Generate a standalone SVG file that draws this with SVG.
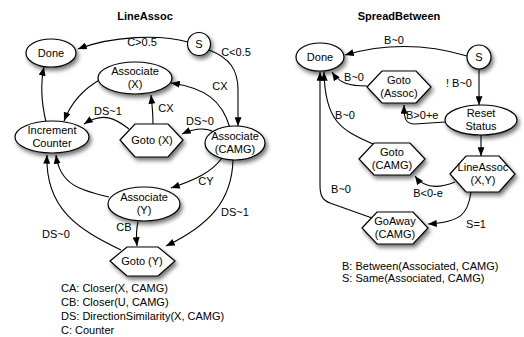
<svg xmlns="http://www.w3.org/2000/svg" width="524" height="337" viewBox="0 0 524 337">
<style>
text{font-family:"Liberation Sans",Arial,sans-serif;font-size:11px;fill:#000}
.t{font-weight:bold;text-anchor:middle}
.c{text-anchor:middle}
.n{fill:#fff;stroke:#000;stroke-width:1.2;filter:url(#sh)}
.e{fill:none;stroke:#000;stroke-width:1.1;marker-end:url(#ah)}
</style>
<defs>
<filter id="sh" x="-30%" y="-30%" width="170%" height="180%">
<feDropShadow dx="2" dy="3" stdDeviation="2" flood-color="#000" flood-opacity="0.55"/>
</filter>
<marker id="ah" viewBox="0 0 10 8" refX="10" refY="4" markerWidth="9" markerHeight="7" markerUnits="userSpaceOnUse" orient="auto">
<path d="M0,0 L10,4 L0,8 z" fill="#000"/>
</marker>
</defs>
<rect width="524" height="337" fill="#fff"/>
<text class="t" x="145" y="20">LineAssoc</text>
<text class="t" x="399" y="20">SpreadBetween</text>

<g id="edges">
<path class="e" d="M188,42 C160,34 112,36 78,49"/>
<path class="e" d="M209,50 C230,58 238,70 238,90 L238,126"/>
<path class="e" d="M230,128 C222,100 205,88 171,83"/>
<path class="e" d="M153,124 C153,112 152,104 151,95"/>
<path class="e" d="M214,132 C205,127 195,128 182,134"/>
<path class="e" d="M129,129 C115,118 103,112 84,124"/>
<path class="e" d="M101,79 C85,88 72,100 64,121"/>
<path class="e" d="M46,122 C42,105 40,85 44,67"/>
<path class="e" d="M222,158 C212,172 195,180 171,188"/>
<path class="e" d="M233,160 C232,200 210,225 166,246"/>
<path class="e" d="M138,222 C136,230 136,236 137,246"/>
<path class="e" d="M109,197 C80,190 60,185 56,155"/>
<path class="e" d="M121,250 C80,230 45,210 47,155"/>

<path class="e" d="M467,56 C430,45 390,42 345,55"/>
<path class="e" d="M479,69 L479,105"/>
<path class="e" d="M367,86 C350,86 340,84 332,72"/>
<path class="e" d="M445,122 L415,124 C405,124 404,118 404,105"/>
<path class="e" d="M481,135 L481,156"/>
<path class="e" d="M373,144 C340,130 325,120 324,72"/>
<path class="e" d="M455,182 C440,188 425,190 415,176"/>
<path class="e" d="M471,192 C468,215 460,222 428,224"/>
<path class="e" d="M372,218 L330,203 C322,200 320,195 320,185 L320,72"/>

<text class="c" x="142" y="46">C&gt;0.5</text>
<text class="c" x="236" y="56">C&lt;0.5</text>
<text class="c" x="220" y="90">CX</text>
<text class="c" x="166" y="112">CX</text>
<text class="c" x="200" y="125">DS~0</text>
<text class="c" x="108" y="115">DS~1</text>
<text class="c" x="206" y="185">CY</text>
<text class="c" x="235" y="216">DS~1</text>
<text class="c" x="124" y="231">CB</text>
<text class="c" x="56" y="238">DS~0</text>

<text class="c" x="394" y="44">B~0</text>
<text class="c" x="459" y="87">! B~0</text>
<text class="c" x="354" y="81">B~0</text>
<text x="406" y="119">B&gt;0+e</text>
<text class="c" x="345" y="119">B~0</text>
<text class="c" x="428" y="197">B&lt;0-e</text>
<text class="c" x="476" y="228">S=1</text>
<text class="c" x="341" y="193">B~0</text>
</g>

<g id="done1"><ellipse class="n" cx="51" cy="53" rx="25" ry="14"/><text class="c" x="51" y="57">Done</text></g>
<g id="s1"><circle class="n" cx="199" cy="44" r="11.5"/><text class="c" x="199" y="48">S</text></g>
<g id="assocx"><ellipse class="n" cx="135" cy="78" rx="37" ry="16"/><text class="c" x="135" y="75">Associate</text><text class="c" x="135" y="88">(X)</text></g>
<g id="inc"><ellipse class="n" cx="52" cy="137" rx="37" ry="16"/><text class="c" x="52" y="134">Increment</text><text class="c" x="52" y="147">Counter</text></g>
<g id="gotox"><polygon class="n" points="120,140 135,124 168,124 183,140 168,157 135,157"/><text class="c" x="152" y="144">Goto (X)</text></g>
<g id="assoccamg"><ellipse class="n" cx="235" cy="143" rx="30" ry="17"/><text class="c" x="235" y="140">Associate</text><text class="c" x="235" y="153">(CAMG)</text></g>
<g id="assocy"><ellipse class="n" cx="144" cy="204" rx="36" ry="17"/><text class="c" x="144" y="201">Associate</text><text class="c" x="144" y="214">(Y)</text></g>
<g id="gotoy"><polygon class="n" points="110,261 127,247 158,247 175,261 158,276 127,276"/><text class="c" x="142" y="265">Goto (Y)</text></g>

<g id="done2"><ellipse class="n" cx="320" cy="57" rx="24" ry="14"/><text class="c" x="320" y="61">Done</text></g>
<g id="s2"><circle class="n" cx="479" cy="57" r="12"/><text class="c" x="479" y="61">S</text></g>
<g id="gotoassoc"><polygon class="n" points="367,87 382,71 416,71 431,87 416,103 382,103"/><text class="c" x="399" y="84">Goto</text><text class="c" x="399" y="97">(Assoc)</text></g>
<g id="reset"><ellipse class="n" cx="481" cy="120" rx="36" ry="15"/><text class="c" x="481" y="117">Reset</text><text class="c" x="481" y="130">Status</text></g>
<g id="gotocamg"><polygon class="n" points="359,159 374,143 410,143 425,159 410,175 374,175"/><text class="c" x="392" y="156">Goto</text><text class="c" x="392" y="169">(CAMG)</text></g>
<g id="lineassoc"><polygon class="n" points="450,174 466,156 499,156 515,174 499,192 466,192"/><text class="c" x="483" y="171">LineAssoc</text><text class="c" x="483" y="184">(X,Y)</text></g>
<g id="goaway"><polygon class="n" points="362,228 377,212 413,212 428,228 413,244 377,244"/><text class="c" x="395" y="225">GoAway</text><text class="c" x="395" y="238">(CAMG)</text></g>

<g id="legend1">
<text x="61" y="292">CA: Closer(X, CAMG)</text>
<text x="61" y="306">CB: Closer(U, CAMG)</text>
<text x="61" y="320">DS: DirectionSimilarity(X, CAMG)</text>
<text x="61" y="334">C: Counter</text>
</g>
<g id="legend2">
<text x="342" y="270">B: Between(Associated, CAMG)</text>
<text x="342" y="282">S: Same(Associated, CAMG)</text>
</g>
</svg>
